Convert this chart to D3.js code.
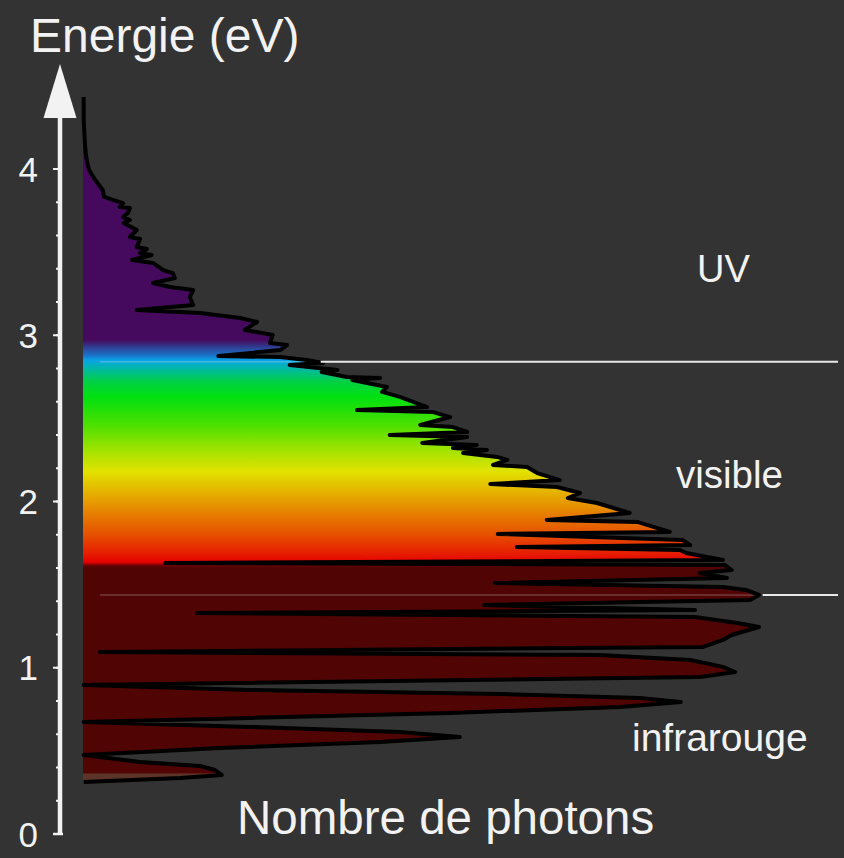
<!DOCTYPE html>
<html>
<head>
<meta charset="utf-8">
<script src="https://cdn.jsdelivr.net/npm/d3@7"></script>
<style>
html,body{margin:0;padding:0;background:#333333;}
svg{display:block;}
text{font-family:"Liberation Sans",Arial,Helvetica,sans-serif;fill:#f2f2f2;}
</style>
</head>
<body>
<script>
// ---- data: solar photon spectrum (energy in eV, photons in arbitrary units) ----
const energy = [4.433,4.295,4.144,4.096,4.042,3.994,3.934,3.874,3.832,3.814,3.795,3.771,3.765,3.735,3.711,3.693,3.675,3.633,3.591,3.579,3.531,3.519,3.495,3.483,3.453,3.435,3.392,3.374,3.344,3.314,3.290,3.272,3.230,3.182,3.152,3.134,3.104,3.080,3.032,3.002,2.953,2.941,2.911,2.875,2.869,2.851,2.833,2.821,2.791,2.779,2.749,2.743,2.731,2.689,2.659,2.629,2.568,2.550,2.538,2.508,2.460,2.448,2.418,2.400,2.388,2.352,2.340,2.322,2.310,2.292,2.268,2.250,2.220,2.208,2.171,2.129,2.105,2.087,2.051,2.021,1.991,1.931,1.889,1.877,1.817,1.805,1.768,1.738,1.726,1.708,1.690,1.648,1.630,1.618,1.588,1.570,1.540,1.510,1.486,1.468,1.438,1.408,1.377,1.347,1.329,1.305,1.269,1.245,1.197,1.167,1.125,1.095,1.077,1.047,1.005,0.974,0.944,0.896,0.866,0.842,0.818,0.794,0.764,0.728,0.698,0.674,0.644,0.614,0.583,0.553,0.517,0.475,0.433,0.409,0.385,0.355,0.337,0.313];
const photons = [0.1,0.1,0.3,0.4,0.6,0.9,1.8,2.9,3.1,4.4,5.9,5.4,6.9,6.6,5.9,6.9,6.0,7.9,6.9,8.4,7.9,9.4,8.4,10.1,7.2,10.3,11.8,13.2,13.5,10.3,12.8,16.2,15.7,16.2,7.9,17.2,23.1,25.6,23.8,27.9,27.5,30.0,29.0,19.9,29.0,32.9,35.3,30.4,37.4,35.1,38.8,43.7,39.6,44.7,44.0,46.6,50.6,40.3,51.5,54.0,49.6,54.4,56.5,45.1,56.5,49.9,57.9,54.4,59.4,55.9,60.9,62.4,60.3,65.3,66.8,70.1,59.9,69.7,73.1,71.3,75.6,80.4,68.2,81.5,86.3,61.0,88.2,89.3,63.8,87.8,88.7,94.1,12.1,94.4,95.4,90.7,94.7,60.6,94.1,97.5,99.4,98.1,59.0,90.0,16.8,90.0,96.2,99.4,95.4,94.1,91.2,2.5,76.0,89.3,94.1,95.9,90.7,0.1,24.6,61.3,81.9,87.9,79.0,54.0,24.6,0.1,24.6,46.6,55.4,43.7,20.1,0.1,8.4,17.2,19.4,20.4,14.3,0.1];

// colour bands along the energy axis
const bandEnergy = [4.6, 2.97, 2.93, 2.88, 2.85, 2.80, 2.72, 2.63, 2.45, 2.30, 2.18, 2.05, 1.92, 1.80, 1.68, 1.635, 1.615, 1.60, 0.37, 0.36, 0.0];
const bandColor  = ["#450a5e","#450a5e","#303c90","#1a72c8","#0aa2e6","#02b8a6","#00d044","#00e010","#52e000","#a6e300","#e2e200","#e6b000","#e67c00","#e65000","#e61a00","#e60000","#6a0404","#500404","#500404","#5c3428","#5c3428"];

const tickValues = [0, 1, 2, 3, 4];
const minorTicks = d3.range(0, 4.01, 0.2);
const refEnergy = [2.84, 1.437];
const regionLabels = ["UV", "visible", "infrarouge"];
const regionEnergy = [3.32, 2.08, 0.50];
const yTitle = "Energie (eV)";
const xTitle = "Nombre de photons";

// ---- layout ----
const W = 844, H = 858;
const svg = d3.select("body").append("svg").attr("width", W).attr("height", H);
svg.append("rect").attr("width", W).attr("height", H).attr("fill", "#333333");

const y = d3.scaleLinear().domain([0, 4]).range([834, 169]);
const x = d3.scaleLinear().domain([0, 100]).range([83, 763]);

const data = energy.map((e, i) => ({e, p: photons[i]}));

// gradient
const defs = svg.append("defs");
const grad = defs.append("linearGradient").attr("id", "spec")
  .attr("gradientUnits", "userSpaceOnUse")
  .attr("x1", 0).attr("x2", 0).attr("y1", y(bandEnergy[0])).attr("y2", y(0));
const span = y(0) - y(bandEnergy[0]);
bandEnergy.forEach((e, i) => {
  grad.append("stop").attr("offset", (y(e) - y(bandEnergy[0])) / span).attr("stop-color", bandColor[i]);
});

// filled spectrum
const area = d3.area().y(d => y(d.e)).x0(x(0)).x1(d => x(d.p));
svg.append("path").datum(data).attr("d", area).attr("fill", "url(#spec)");

// interpolate curve at energy
function photonsAt(e) {
  for (let i = 0; i < data.length - 1; i++) {
    const a = data[i], b = data[i + 1];
    if (e <= a.e && e >= b.e) {
      const t = (a.e - e) / (a.e - b.e);
      return a.p + t * (b.p - a.p);
    }
  }
  return 0;
}

// faint reference lines inside the spectrum
refEnergy.forEach(e => {
  svg.append("line")
    .attr("x1", x(2.5)).attr("x2", x(photonsAt(e)))
    .attr("y1", y(e)).attr("y2", y(e))
    .attr("stroke", "#ffffff").attr("stroke-opacity", 0.22).attr("stroke-width", 1.5);
});

// outline
const line = d3.line().y(d => y(d.e)).x(d => x(d.p));
svg.append("path").datum(data).attr("d", line)
  .attr("fill", "none").attr("stroke", "#000").attr("stroke-width", 4)
  .attr("stroke-linejoin", "round");

// white reference lines outside
refEnergy.forEach(e => {
  svg.append("line")
    .attr("x1", x(photonsAt(e)) + 4).attr("x2", 838)
    .attr("y1", y(e)).attr("y2", y(e))
    .attr("stroke", "#e8e8e8").attr("stroke-width", 2);
});

// axis
const ax = 60;
svg.append("line").attr("x1", ax).attr("x2", ax).attr("y1", y(0) + 1).attr("y2", 116)
  .attr("stroke", "#f2f2f2").attr("stroke-width", 4.5);
svg.append("path")
  .attr("d", `M${ax},64 L${ax - 16.5},118 L${ax + 16.5},118 Z`)
  .attr("fill", "#f2f2f2");
svg.selectAll(".minor").data(minorTicks).enter().append("line")
  .attr("x1", ax - 4).attr("x2", ax).attr("y1", d => y(d)).attr("y2", d => y(d))
  .attr("stroke", "#f2f2f2").attr("stroke-width", 2);
svg.selectAll(".major").data(tickValues).enter().append("line")
  .attr("x1", ax - 7).attr("x2", ax).attr("y1", d => y(d)).attr("y2", d => y(d))
  .attr("stroke", "#f2f2f2").attr("stroke-width", 2);
svg.append("line").attr("x1", ax - 7).attr("x2", ax + 3).attr("y1", y(0)).attr("y2", y(0))
  .attr("stroke", "#f2f2f2").attr("stroke-width", 2.5);
svg.selectAll(".tl").data(tickValues).enter().append("text")
  .attr("x", 38).attr("y", d => y(d) + 12.5)
  .attr("text-anchor", "end").attr("font-size", 35).text(d => d);

// titles
svg.append("text").attr("x", 30).attr("y", 52).attr("font-size", 48).text(yTitle);
svg.append("text").attr("x", 237).attr("y", 834).attr("font-size", 47.5).text(xTitle);

const labelX = [697, 676, 632];
const labelSize = [38, 38.5, 39];
regionLabels.forEach((t, i) => {
  svg.append("text").attr("x", labelX[i]).attr("y", y(regionEnergy[i]) + 0)
    .attr("font-size", labelSize[i]).text(t);
});
</script>
</body>
</html>
